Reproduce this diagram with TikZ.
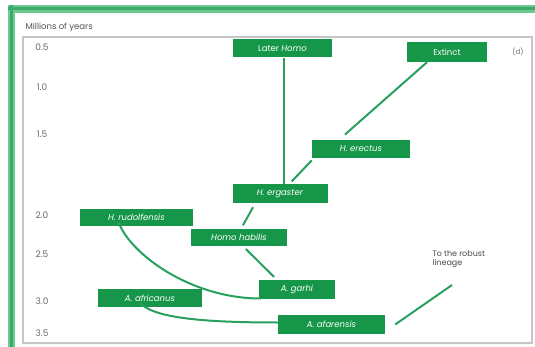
\documentclass[tikz,border=0pt]{standalone}
\usepackage{fontspec}
\setmainfont{Poppins}
\usepackage{xcolor}
\usepackage{tikz}
\usetikzlibrary{positioning}

\definecolor{boxgreen}{RGB}{22,150,72}
\definecolor{linegreen}{RGB}{40,160,95}
\definecolor{framegreen}{RGB}{110,200,145}
\definecolor{framedark}{RGB}{60,170,105}
\definecolor{axisgray}{RGB}{105,105,105}

\begin{document}
\begin{tikzpicture}[
    x=1pt, y=-1pt,
    taxon/.style={rectangle, fill=boxgreen, text=white, inner sep=0pt, font=\fontsize{8.5}{9}\selectfont, align=center},
    lineage/.style={draw=linegreen, line width=2pt},
    tick/.style={font=\fontsize{9}{9}\selectfont, text=axisgray},
]
\useasboundingbox (0,0) rectangle (535,347);

% Frame
\draw[framegreen, line width=8pt] (8,9) -- (535,9);
\draw[framegreen, line width=7pt] (11.5,5) -- (11.5,347);
\draw[framedark, line width=3pt] (8,9) -- (535,9);
\draw[framedark, line width=3pt] (11.5,5) -- (11.5,347);
\draw[gray!45, line width=1.3pt] (23,37) rectangle (532,343);

% Time axis
\node[font=\fontsize{8.5}{9}\selectfont, text=axisgray!80!black, anchor=west] (ylabel) at (22,27) {Millions of years};
\node[tick] (t05) at (42,47) {0.5};
\node[tick] (t10) at (42,87) {1.0};
\node[tick] (t15) at (42,134) {1.5};
\node[tick] (t20) at (42,215) {2.0};
\node[tick] (t25) at (42,254) {2.5};
\node[tick] (t30) at (42,301) {3.0};
\node[tick] (t35) at (42,333) {3.5};
\node[font=\fontsize{7}{7}\selectfont, text=axisgray] (panel) at (518,52) {(d)};

% Taxa
\node[taxon, minimum width=99, minimum height=18] (later) at (282.5,48.5) {Later \textit{Homo}};
\node[taxon, minimum width=80, minimum height=20] (extinct) at (447,52) {Extinct};
\node[taxon, minimum width=98, minimum height=18] (erectus) at (361,149) {\textit{H. erectus}};
\node[taxon, minimum width=95, minimum height=19] (ergaster) at (280,194) {\textit{H. ergaster}};
\node[taxon, minimum width=113, minimum height=17] (rudolf) at (136.5,217.5) {\textit{H. rudolfensis}};
\node[taxon, minimum width=96, minimum height=17] (habilis) at (239,237.5) {\textit{Homo habilis}};
\node[taxon, minimum width=76, minimum height=19] (garhi) at (297,289.5) {\textit{A. garhi}};
\node[taxon, minimum width=104, minimum height=18] (africanus) at (150,298) {\textit{A. africanus}};
\node[taxon, minimum width=107, minimum height=19] (afarensis) at (331.5,324.5) {\textit{A. afarensis}};
\node[font=\fontsize{8}{9.5}\selectfont, text=axisgray!70!black, align=left, anchor=north west] (robusttxt) at (429,247) {To the robust\\lineage};
\coordinate (robust) at (452,285);

% Lineages
\draw[lineage] ([xshift=1]later.south) -- ([xshift=1]later.south |- ergaster.north);
\draw[lineage, shorten >=8pt] ([xshift=-20]extinct.south) -- ([xshift=-22]erectus.north);
\draw[lineage, shorten <=3pt, shorten >=4pt] ([xshift=2]erectus.south west) -- ([xshift=9]ergaster.north);
\draw[lineage, shorten <=4pt, shorten >=4pt] ([xshift=-25]ergaster.south) -- ([xshift=2]habilis.north);
\draw[lineage, shorten <=4pt, shorten >=4pt] ([xshift=4]habilis.south) -- ([xshift=-20]garhi.north);
\draw[lineage] ([xshift=-18,yshift=4]rudolf.south) .. controls +(12,32) and +(-70,0) .. ([xshift=2,yshift=-9]garhi.west);
\draw[lineage] ([xshift=-10,yshift=4]africanus.south) .. controls +(14,14) and +(-80,0) .. ([yshift=2]afarensis.west);
\draw[lineage] ([xshift=10]afarensis.east) -- (robust);

\end{tikzpicture}
\end{document}
